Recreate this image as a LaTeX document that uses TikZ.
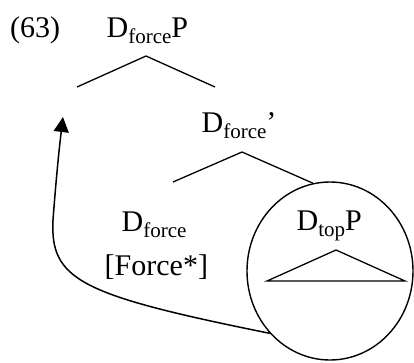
\documentclass[tikz,border=0pt]{standalone}
\usepackage{fontspec}
\setmainfont{Liberation Serif}
\usetikzlibrary{arrows.meta,shapes.geometric}
\newcommand{\sbs}[1]{\raisebox{-0.2em}{\fontsize{21}{21}\selectfont #1}}
\tikzset{
  lbl/.style={anchor=base west,inner sep=0pt,font=\fontsize{30}{34}\selectfont},
  branch/.style={line width=1.3pt},
  bubble/.style={ellipse,draw,line width=1.4pt,minimum width=166pt,minimum height=178pt,inner sep=0pt},
}
\begin{document}
\begin{tikzpicture}[x=1pt,y=-1pt]
\useasboundingbox (0,0) rectangle (414,362);
% labels
\node[lbl] (ex) at (10,37) {(63)};
\node[lbl] (root) at (106.5,37) {D\sbs{force}P};
\node[lbl] (bar) at (201.5,132) {D\sbs{force}'};
\node[lbl] (head) at (121.5,231) {D\sbs{force}};
\node[lbl] (feat) at (104.5,275) {[Force*]};
\node[bubble] (circ) at (330,271) {};
\node[lbl] (top) at (296.5,230) {D\sbs{top}P};
% tree branches
\coordinate (a1) at (146,56);
\coordinate (l1) at (77,87);
\coordinate (r1) at (215,87);
\coordinate (a2) at (242,152);
\coordinate (l2) at (173,182);
\coordinate (ta) at (336,250);
\coordinate (tl) at (267,281);
\coordinate (tr) at (405,281);
\coordinate (tgt) at (63,117);
\draw[branch] (l1) -- (a1) -- (r1);
\draw[branch] (l2) -- (a2) -- (circ.101);
\draw[branch] (tl) -- (ta) -- (tr) -- cycle;
% movement arrow
\draw[line width=1.5pt,-{Triangle[width=15pt,length=15pt]}]
  (circ.226) .. controls (80,295) and (50,280) .. (53,220)
  .. controls (56,180) and (59,150) .. (tgt);
\end{tikzpicture}
\end{document}
